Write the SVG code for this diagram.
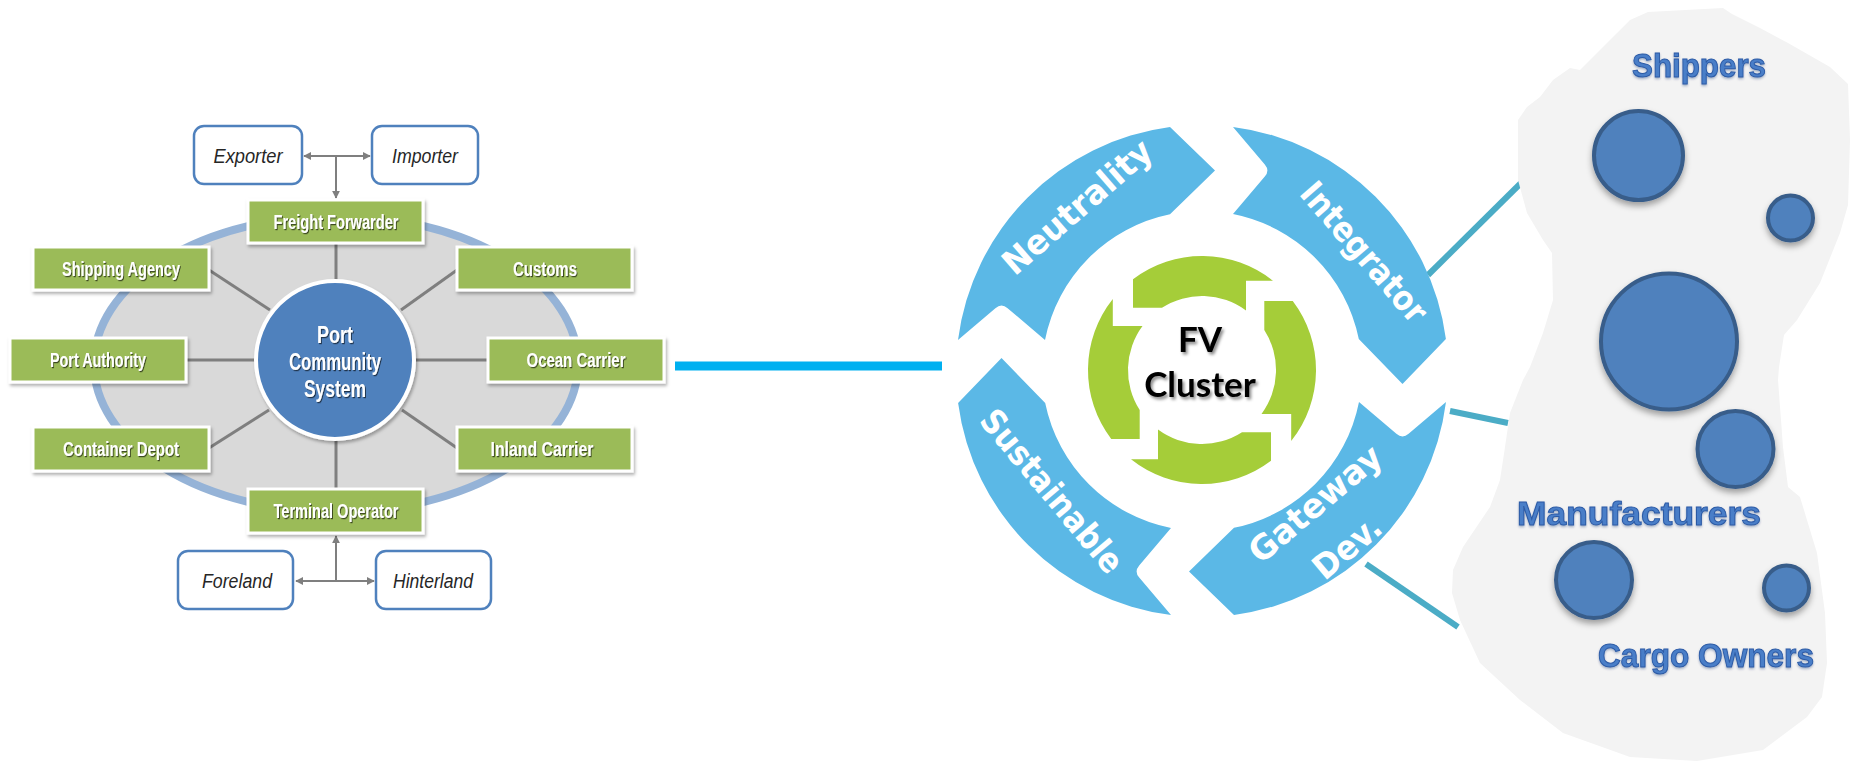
<svg xmlns="http://www.w3.org/2000/svg" width="1850" height="762" viewBox="0 0 1850 762">
  <defs>
    <style>
      .ell { fill: #D9D9D9; stroke: #95B3D7; stroke-width: 8; }
      .spoke { stroke: #7F7F7F; stroke-width: 3; fill: none; }
      .gbox { fill: #9BBB59; stroke: #FFFFFF; stroke-width: 3; filter: url(#boxShadow); }
      .gtxt { font-family: "Liberation Sans", Arial, sans-serif; font-weight: bold; font-size: 20px; fill: #FFFFFF; text-anchor: middle; filter: url(#txtShadow); }
      .wbox { fill: #FFFFFF; stroke: #4F81BD; stroke-width: 2.5; }
      .itxt { font-family: "Liberation Sans", Arial, sans-serif; font-style: italic; font-size: 20px; fill: #262626; text-anchor: middle; }
      .flow { stroke: #7F7F7F; stroke-width: 2; fill: none; }
      .pcs { fill: #4F81BD; stroke: #FFFFFF; stroke-width: 4; filter: url(#boxShadow); }
      .ptxt { font-family: "Liberation Sans", Arial, sans-serif; font-weight: bold; font-size: 23px; fill: #FFFFFF; text-anchor: middle; filter: url(#txtShadow); }
      .seg { fill: #5BB8E6; }
      .gseg { fill: #A5CD39; }
      .lbl { font-family: "DejaVu Sans", Verdana, sans-serif; font-weight: bold; font-size: 34px; fill: #FFFFFF; text-anchor: middle; }
      .fv { font-family: Lato, "Liberation Sans", sans-serif; font-weight: bold; font-size: 35px; fill: #000000; text-anchor: middle; filter: url(#fvShadow); }
      .link { stroke: #4BACC6; stroke-width: 6; fill: none; }
      .dot { fill: #4F81BD; stroke: #385D8A; stroke-width: 4; filter: url(#dotShadow); }
      .grp { font-family: "Liberation Sans", Arial, sans-serif; font-weight: bold; font-size: 34px; fill: #4A7EC8; stroke: #2B5AA6; stroke-width: 1; text-anchor: middle; filter: url(#grpShadow); }
    </style>
    <marker id="ah" viewBox="0 0 10 10" refX="9" refY="5" markerWidth="4" markerHeight="4" orient="auto-start-reverse">
      <path d="M0,0 L10,5 L0,10 Z" fill="#7F7F7F"/>
    </marker>
    <filter id="boxShadow" x="-20%" y="-20%" width="140%" height="150%">
      <feDropShadow dx="1.5" dy="2.5" stdDeviation="1.5" flood-color="#000000" flood-opacity="0.3"/>
    </filter>
    <filter id="txtShadow" x="-10%" y="-30%" width="120%" height="160%">
      <feDropShadow dx="1" dy="1.2" stdDeviation="0.6" flood-color="#000000" flood-opacity="0.6"/>
    </filter>
    <filter id="fvShadow" x="-20%" y="-30%" width="140%" height="160%">
      <feDropShadow dx="2" dy="2.5" stdDeviation="1.5" flood-color="#000000" flood-opacity="0.45"/>
    </filter>
    <filter id="dotShadow" x="-30%" y="-30%" width="160%" height="170%">
      <feDropShadow dx="0" dy="4" stdDeviation="3" flood-color="#000000" flood-opacity="0.35"/>
    </filter>
    <filter id="grpShadow" x="-10%" y="-30%" width="120%" height="170%">
      <feDropShadow dx="0" dy="1.5" stdDeviation="1" flood-color="#0B2D6B" flood-opacity="0.35"/>
    </filter>
  </defs>

  <rect width="1850" height="762" fill="#FFFFFF"/>

  <!-- Port community system: background ring -->
  <ellipse class="ell" cx="336" cy="364" rx="242" ry="148"/>

  <!-- spokes and flows -->
  <g id="connectors">
    <line class="spoke" x1="336" y1="243" x2="336" y2="282"/>
    <line class="spoke" x1="336" y1="438" x2="336" y2="489"/>
    <line class="spoke" x1="186" y1="360" x2="256" y2="360"/>
    <line class="spoke" x1="415" y1="360" x2="488" y2="360"/>
    <line class="spoke" x1="209" y1="270" x2="270" y2="310"/>
    <line class="spoke" x1="457" y1="270" x2="401" y2="310"/>
    <line class="spoke" x1="209" y1="448" x2="269" y2="410"/>
    <line class="spoke" x1="457" y1="448" x2="402" y2="410"/>

    <line class="flow" x1="336" y1="156" x2="304" y2="156" marker-end="url(#ah)"/>
    <line class="flow" x1="336" y1="156" x2="370" y2="156" marker-end="url(#ah)"/>
    <line class="flow" x1="336" y1="156" x2="336" y2="198" marker-end="url(#ah)"/>

    <line class="flow" x1="336" y1="581" x2="296" y2="581" marker-end="url(#ah)"/>
    <line class="flow" x1="336" y1="581" x2="374" y2="581" marker-end="url(#ah)"/>
    <line class="flow" x1="336" y1="581" x2="336" y2="536" marker-end="url(#ah)"/>

    <line x1="675" y1="366" x2="942" y2="366" stroke="#00B0F0" stroke-width="9"/>

    <line class="link" x1="1428" y1="275" x2="1521" y2="183"/>
    <line class="link" x1="1450" y1="411" x2="1508" y2="423"/>
    <line class="link" x1="1366" y1="564" x2="1458" y2="627"/>
  </g>

  <g id="pcs">
    <circle class="pcs" cx="335" cy="360" r="79"/>
    <text class="ptxt" x="335" y="343" textLength="36" lengthAdjust="spacingAndGlyphs">Port</text>
    <text class="ptxt" x="335" y="370" textLength="92" lengthAdjust="spacingAndGlyphs">Community</text>
    <text class="ptxt" x="335" y="397" textLength="62" lengthAdjust="spacingAndGlyphs">System</text>
  </g>

  <g id="freight-forwarder">
    <rect class="gbox" x="248" y="200" width="175" height="43"/>
    <text class="gtxt" x="336" y="229" textLength="125" lengthAdjust="spacingAndGlyphs">Freight Forwarder</text>
  </g>
  <g id="shipping-agency">
    <rect class="gbox" x="33" y="247" width="176" height="43"/>
    <text class="gtxt" x="121" y="276" textLength="118" lengthAdjust="spacingAndGlyphs">Shipping Agency</text>
  </g>
  <g id="customs">
    <rect class="gbox" x="457" y="247" width="175" height="43"/>
    <text class="gtxt" x="545" y="276" textLength="64" lengthAdjust="spacingAndGlyphs">Customs</text>
  </g>
  <g id="port-authority">
    <rect class="gbox" x="10" y="338" width="176" height="44"/>
    <text class="gtxt" x="98" y="367" textLength="96" lengthAdjust="spacingAndGlyphs">Port Authority</text>
  </g>
  <g id="ocean-carrier">
    <rect class="gbox" x="488" y="338" width="176" height="44"/>
    <text class="gtxt" x="576" y="367" textLength="99" lengthAdjust="spacingAndGlyphs">Ocean Carrier</text>
  </g>
  <g id="container-depot">
    <rect class="gbox" x="33" y="427" width="176" height="44"/>
    <text class="gtxt" x="121" y="456" textLength="116" lengthAdjust="spacingAndGlyphs">Container Depot</text>
  </g>
  <g id="inland-carrier">
    <rect class="gbox" x="457" y="427" width="175" height="44"/>
    <text class="gtxt" x="542" y="456" textLength="103" lengthAdjust="spacingAndGlyphs">Inland Carrier</text>
  </g>
  <g id="terminal-operator">
    <rect class="gbox" x="248" y="489" width="175" height="44"/>
    <text class="gtxt" x="336" y="518" textLength="125" lengthAdjust="spacingAndGlyphs">Terminal Operator</text>
  </g>

  <g id="exporter">
    <rect class="wbox" x="194" y="126" width="108" height="58" rx="10"/>
    <text class="itxt" x="248" y="163" textLength="69" lengthAdjust="spacingAndGlyphs">Exporter</text>
  </g>
  <g id="importer">
    <rect class="wbox" x="372" y="126" width="106" height="58" rx="10"/>
    <text class="itxt" x="425" y="163" textLength="66" lengthAdjust="spacingAndGlyphs">Importer</text>
  </g>
  <g id="foreland">
    <rect class="wbox" x="178" y="551" width="115" height="58" rx="10"/>
    <text class="itxt" x="237" y="588" textLength="70" lengthAdjust="spacingAndGlyphs">Foreland</text>
  </g>
  <g id="hinterland">
    <rect class="wbox" x="376" y="551" width="115" height="58" rx="10"/>
    <text class="itxt" x="433" y="588" textLength="80" lengthAdjust="spacingAndGlyphs">Hinterland</text>
  </g>

  <!-- FV cluster cycle: four chevron arcs around centre (1202,371) -->
  <g id="neutrality">
    <path class="seg" d="M958,340 A246,246 0 0,1 1170,127.1 L1215,170.5 L1170,214.2 A160,160 0 0,0 1045,340 L1007.6,308.2 Q1001.5,303 995.4,308.2 Z"/>
    <text class="lbl" transform="translate(1079,209) rotate(-41)" y="9" textLength="186" lengthAdjust="spacingAndGlyphs">Neutrality</text>
  </g>
  <g id="integrator">
    <path class="seg" transform="rotate(90 1202 371)" d="M958,340 A246,246 0 0,1 1170,127.1 L1215,170.5 L1170,214.2 A160,160 0 0,0 1045,340 L1007.6,308.2 Q1001.5,303 995.4,308.2 Z"/>
    <text class="lbl" transform="translate(1362,254) rotate(49)" y="9" textLength="174" lengthAdjust="spacingAndGlyphs">Integrator</text>
  </g>
  <g id="gateway-dev">
    <path class="seg" transform="rotate(180 1202 371)" d="M958,340 A246,246 0 0,1 1170,127.1 L1215,170.5 L1170,214.2 A160,160 0 0,0 1045,340 L1007.6,308.2 Q1001.5,303 995.4,308.2 Z"/>
    <text class="lbl" transform="translate(1317,506) rotate(-40)" y="9" textLength="162" lengthAdjust="spacingAndGlyphs">Gateway</text>
    <text class="lbl" transform="translate(1347,547) rotate(-40)" y="12" textLength="78" lengthAdjust="spacingAndGlyphs">Dev.</text>
  </g>
  <g id="sustainable">
    <path class="seg" transform="rotate(270 1202 371)" d="M958,340 A246,246 0 0,1 1170,127.1 L1215,170.5 L1170,214.2 A160,160 0 0,0 1045,340 L1007.6,308.2 Q1001.5,303 995.4,308.2 Z"/>
    <text class="lbl" transform="translate(1052,491) rotate(50)" y="12" textLength="202" lengthAdjust="spacingAndGlyphs">Sustainable</text>
  </g>

  <g id="fv-cluster">
    <path class="gseg" d="M1133,279.25 A114,114 0 0,1 1273,280.8 L1246,280.8 L1246,310.5 A74,74 0 0,0 1162,307.7 L1133,307.7 Z"/>
    <path class="gseg" transform="rotate(90 1202 370)" d="M1133,279.25 A114,114 0 0,1 1273,280.8 L1246,280.8 L1246,310.5 A74,74 0 0,0 1162,307.7 L1133,307.7 Z"/>
    <path class="gseg" transform="rotate(180 1202 370)" d="M1133,279.25 A114,114 0 0,1 1273,280.8 L1246,280.8 L1246,310.5 A74,74 0 0,0 1162,307.7 L1133,307.7 Z"/>
    <path class="gseg" transform="rotate(270 1202 370)" d="M1133,279.25 A114,114 0 0,1 1273,280.8 L1246,280.8 L1246,310.5 A74,74 0 0,0 1162,307.7 L1133,307.7 Z"/>
    <text class="fv" x="1200" y="352">FV</text>
    <text class="fv" x="1200" y="397">Cluster</text>
  </g>

  <!-- stakeholder area -->
  <g id="stakeholders">
    <path fill="#F3F3F3" d="M1648,12 L1723,8 L1732,14 L1760,28 L1788,43 L1830,67 L1848,84 L1850,140 L1848,205 L1840,233 L1820,283 L1797,320 L1784,335 L1779,367 L1778,380 L1783,447 L1788,487 L1800,497 L1817,553 L1825,613 L1827,663 L1822,697 L1807,717 L1763,750 L1697,761 L1630,757 L1563,733 L1520,700 L1480,663 L1460,620 L1452,593 L1453,570 L1463,547 L1490,507 L1500,480 L1505,447 L1510,413 L1523,380 L1530,367 L1543,333 L1553,300 L1552,253 L1543,240 L1527,213 L1518,180 L1518,120 L1527,107 L1540,97 L1553,80 L1570,68 L1580,70 L1617,33 L1630,20 Z"/>
    <circle class="dot" cx="1638.5" cy="155.5" r="44.5"/>
    <circle class="dot" cx="1790.5" cy="218" r="22.5"/>
    <circle class="dot" cx="1669" cy="341.5" r="68"/>
    <circle class="dot" cx="1735.5" cy="449" r="38"/>
    <circle class="dot" cx="1594" cy="580" r="38"/>
    <circle class="dot" cx="1786.5" cy="588" r="22.5"/>
    <text class="grp" x="1699" y="77" textLength="134" lengthAdjust="spacingAndGlyphs">Shippers</text>
    <text class="grp" x="1639" y="525" textLength="244" lengthAdjust="spacingAndGlyphs">Manufacturers</text>
    <text class="grp" x="1706" y="667" textLength="216" lengthAdjust="spacingAndGlyphs">Cargo Owners</text>
  </g>
</svg>
